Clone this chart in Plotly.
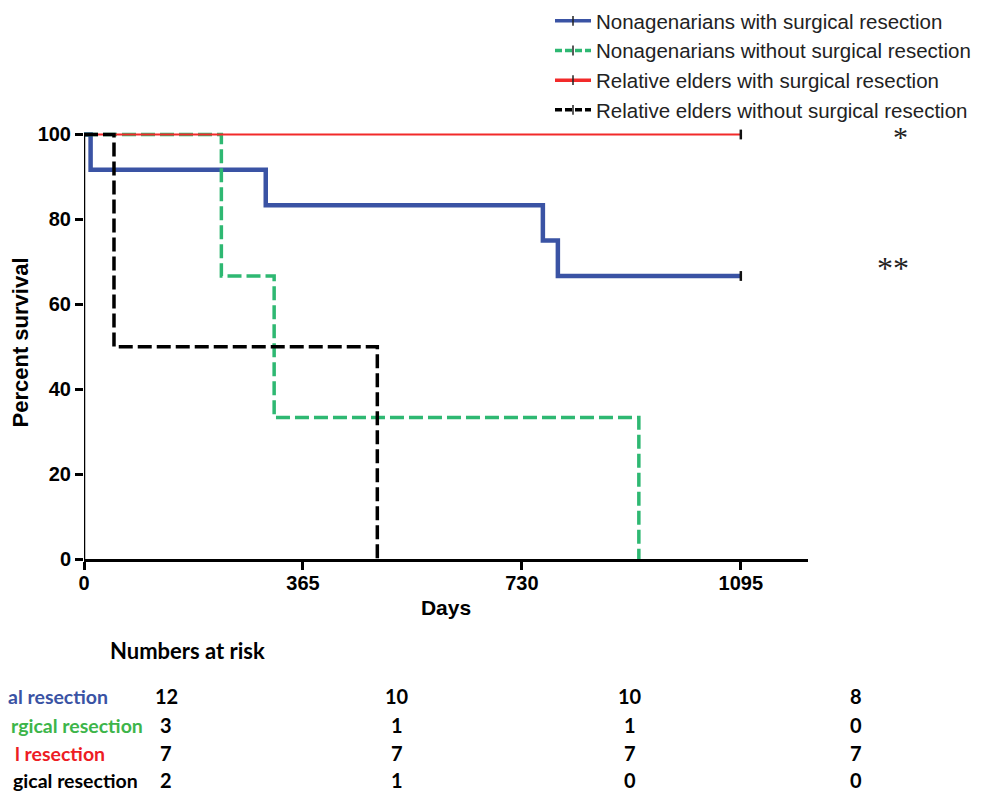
import plotly.graph_objects as go

# ---- data ----
series_names = [
    "Nonagenarians with surgical resection",
    "Nonagenarians without surgical resection",
    "Relative elders with surgical resection",
    "Relative elders without surgical resection",
]
nona_surg_days = [0, 11, 303, 765, 790, 1095]
nona_surg_surv = [100, 91.67, 83.33, 75.0, 66.67, 66.67]
nona_nosurg_days = [0, 229, 317, 925]
nona_nosurg_surv = [100, 66.67, 33.33, 0]
elder_surg_days = [0, 1095]
elder_surg_surv = [100, 100]
elder_nosurg_days = [0, 50, 489]
elder_nosurg_surv = [100, 50, 0]
censor_days = [1095, 1095]
censor_surv = [66.67, 100]

x_ticks = [0, 365, 730, 1095]
y_ticks = [0, 20, 40, 60, 80, 100]

risk_title = "Numbers at risk"
# row labels as visible in the (left-cropped) reference
risk_labels = ["al resection", "rgical resection", "l resection", "gical resection"]
risk_counts = [
    [12, 10, 10, 8],
    [3, 1, 1, 0],
    [7, 7, 7, 7],
    [2, 1, 0, 0],
]

colors = ["#3A53A4", "#2EB872", "#F22A2A", "#000000"]
table_colors = ["#3A53A4", "#3DB54A", "#ED1C24", "#000000"]
widths = [4.5, 3.5, 2.2, 3.5]
dashes = ["solid", "14px,5px", "solid", "14px,5px"]

# ---- layout geometry (pixels); page has an 8px body margin ----
OFF = 8
W, H = 1001 - OFF, 793 - OFF
L, T = 84 - OFF, 126 - OFF
R = W - (808 - OFF)
B = H - (559 - OFF)
pw, ph = W - L - R, H - T - B


def px(xp):  # page pixel -> paper x
    return (xp - OFF - L) / pw


def py(yp):  # page pixel -> paper y
    return (H - B - (yp - OFF)) / ph


fig = go.Figure()
data = [
    (nona_surg_days, nona_surg_surv),
    (nona_nosurg_days, nona_nosurg_surv),
    (elder_surg_days, elder_surg_surv),
    (elder_nosurg_days, elder_nosurg_surv),
]
for (xs, ys), c, w, d, n in zip(data, colors, widths, dashes, series_names):
    fig.add_trace(go.Scatter(x=xs, y=ys, mode="lines", line=dict(color=c, width=w, dash=d, shape="hv"),
                             name=n, showlegend=False, hoverinfo="skip"))

# censor marks
fig.add_trace(go.Scatter(x=censor_days, y=censor_surv, mode="markers",
                         marker=dict(symbol="line-ns", size=7, line=dict(color="#111", width=2.5)),
                         showlegend=False, hoverinfo="skip", cliponaxis=False))

# legend entries
for c, w, d, n in zip(colors, widths, dashes, series_names):
    fig.add_trace(go.Scatter(x=[None], y=[None], mode="lines+markers", name=n,
                             line=dict(color=c, width=3.5, dash=("7px,3px" if d != "solid" else "solid")),
                             marker=dict(symbol="line-ns", size=7, line=dict(color="#222", width=1.5))))

# y axis line from 0 to 100
fig.add_shape(type="line", xref="x", yref="y", x0=0, x1=0, y0=0, y1=100,
              line=dict(color="black", width=2.5), layer="above")

annotations = []
annotations.append(dict(x=px(900), y=py(136), xref="paper", yref="paper", text="*", showarrow=False,
                        xanchor="center", yanchor="middle",
                        font=dict(family="Liberation Serif", size=30, color="#222")))
annotations.append(dict(x=px(893), y=py(268), xref="paper", yref="paper", text="**", showarrow=False,
                        xanchor="center", yanchor="middle",
                        font=dict(family="Liberation Serif", size=32, color="#222")))
annotations.append(dict(x=px(187), y=py(650), xref="paper", yref="paper", text="<b>%s</b>" % risk_title,
                        showarrow=False, font=dict(family="Lato", size=22, color="black"),
                        xanchor="center", yanchor="middle"))
row_y = [696, 725, 753, 780]
label_right = [110, 145, 107, 140]
col_x = [166, 397, 630, 856]
for lab, cnts, yy, tc, xr in zip(risk_labels, risk_counts, row_y, table_colors, label_right):
    annotations.append(dict(x=px(xr), y=py(yy), xref="paper", yref="paper", text="<b>%s</b>" % lab,
                            showarrow=False, xanchor="right", yanchor="middle",
                            font=dict(family="Lato", size=19.5, color=tc)))
    for cx, v in zip(col_x, cnts):
        annotations.append(dict(x=px(cx), y=py(yy), xref="paper", yref="paper", text="<b>%d</b>" % v,
                                showarrow=False, xanchor="center", yanchor="middle",
                                font=dict(family="Lato", size=20, color="black")))

fig.update_layout(
    width=W, height=H,
    margin=dict(l=L, r=R, t=T, b=B, autoexpand=False),
    paper_bgcolor="white", plot_bgcolor="white",
    showlegend=True,
    legend=dict(x=px(550), y=py(1), xref="paper", yref="paper", xanchor="left", yanchor="top",
                font=dict(family="Liberation Sans", size=20.5, color="#222"),
                bgcolor="rgba(0,0,0,0)", itemwidth=36, tracegroupgap=0),
    xaxis=dict(range=[0, 1207], tickmode="array", tickvals=x_ticks, ticktext=["<b>%d</b>" % v for v in x_ticks],
               showgrid=False, zeroline=False, showline=True, linecolor="black", linewidth=2.5,
               ticks="outside", ticklen=8, tickwidth=2.5, tickcolor="black", ticklabelstandoff=-4,
               tickfont=dict(family="Liberation Sans", size=20, color="black"),
               title=dict(text="<b>Days</b>", font=dict(family="Liberation Sans", size=21, color="black"), standoff=8)),
    yaxis=dict(range=[0, 102], tickmode="array", tickvals=y_ticks, ticktext=["<b>%d</b>" % v for v in y_ticks],
               showgrid=False, zeroline=False, showline=False,
               ticks="outside", ticklen=8, tickwidth=2.5, tickcolor="black",
               tickfont=dict(family="Liberation Sans", size=20, color="black"),
               title=dict(text="<b>Percent survival</b>", font=dict(family="Liberation Sans", size=22, color="black"), standoff=6)),
    annotations=annotations,
)

fig.write_html("out.html")
